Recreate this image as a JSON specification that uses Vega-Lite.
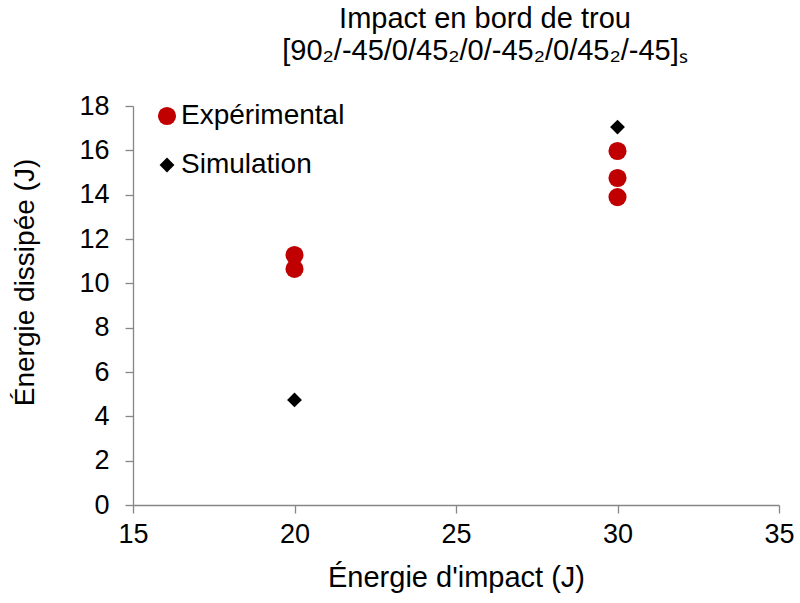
{
  "$schema": "https://vega.github.io/schema/vega-lite/v6.json",
  "autosize": {"type": "none"},
  "width": 646,
  "height": 399,
  "padding": {"left": 133, "top": 106, "right": 21, "bottom": 98},
  "background": "white",
  "title": {
    "text": ["Impact en bord de trou", "[90₂/-45/0/45₂/0/-45₂/0/45₂/-45]ₛ"],
    "font": "Liberation Sans",
    "fontSize": 29,
    "fontWeight": "normal",
    "color": "#000000",
    "anchor": "middle",
    "dx": 29,
    "offset": 26,
    "lineHeight": 32
  },
  "data": {
    "values": [
      {"energie": 20, "dissipee": 11.28, "serie": "Expérimental"},
      {"energie": 20, "dissipee": 10.65, "serie": "Expérimental"},
      {"energie": 30, "dissipee": 15.97, "serie": "Expérimental"},
      {"energie": 30, "dissipee": 14.75, "serie": "Expérimental"},
      {"energie": 30, "dissipee": 13.89, "serie": "Expérimental"},
      {"energie": 20, "dissipee": 4.74, "serie": "Simulation"},
      {"energie": 30, "dissipee": 17.05, "serie": "Simulation"}
    ]
  },
  "mark": {"type": "point", "filled": true, "opacity": 1},
  "encoding": {
    "x": {
      "field": "energie", "type": "quantitative",
      "scale": {"domain": [15, 35], "nice": false, "zero": false},
      "axis": {"values": [15, 20, 25, 30, 35], "title": "Énergie d'impact (J)", "grid": false, "labelFlush": false,
        "domainColor": "#868686", "tickColor": "#868686", "tickSize": 8, "domainWidth": 1.3, "tickWidth": 1.3,
        "labelFont": "Liberation Sans", "labelFontSize": 27, "labelColor": "#000000", "labelPadding": 8,
        "titleFont": "Liberation Sans", "titleFontSize": 29, "titleFontWeight": "normal", "titleColor": "#000000", "titlePadding": 16}
    },
    "y": {
      "field": "dissipee", "type": "quantitative",
      "scale": {"domain": [0, 18], "nice": false},
      "axis": {"values": [0, 2, 4, 6, 8, 10, 12, 14, 16, 18], "title": "Énergie dissipée (J)", "grid": false, "labelFlush": false,
        "domainColor": "#868686", "tickColor": "#868686", "tickSize": 8, "domainWidth": 1.3, "tickWidth": 1.3,
        "labelFont": "Liberation Sans", "labelFontSize": 27, "labelColor": "#000000", "labelPadding": 16,
        "titleFont": "Liberation Sans", "titleFontSize": 28, "titleFontWeight": "normal", "titleColor": "#000000",
        "titleX": -108, "titleY": 176, "titleBaseline": "middle", "titleAlign": "center", "titleAngle": -90}
    },
    "color": {
      "field": "serie", "type": "nominal",
      "scale": {"domain": ["Expérimental", "Simulation"], "range": ["#C00000", "#000000"]},
      "legend": {"title": null, "orient": "none", "legendX": 20, "legendY": -4,
        "labelFont": "Liberation Sans", "labelFontSize": 28, "labelColor": "#000000", "labelLimit": 0,
        "rowPadding": 21, "labelOffset": 0, "symbolOpacity": 1}
    },
    "shape": {
      "field": "serie", "type": "nominal",
      "scale": {"domain": ["Expérimental", "Simulation"], "range": ["circle", "diamond"]}
    },
    "size": {
      "field": "serie", "type": "nominal",
      "scale": {"domain": ["Expérimental", "Simulation"], "range": [330, 220]}
    }
  },
  "config": {"view": {"stroke": null}}
}
